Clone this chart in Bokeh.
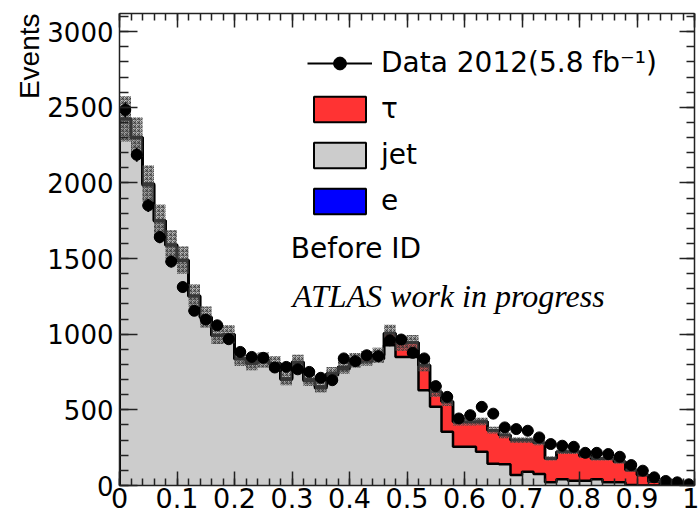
import numpy as np
from bokeh.plotting import figure
from bokeh.models import (Range1d, LinearAxis, SingleIntervalTicker, CustomJSTickFormatter,
                          Legend, LegendItem, Label, Title)
from bokeh.embed import file_html
from bokeh.resources import INLINE

# ---------------- data (50 bins of width 0.02 on [0, 1]) ----------------
x_min, x_max, n_bins = 0.0, 1.0, 50
edges = np.linspace(x_min, x_max, n_bins + 1)

data_counts = [2483, 2186, 1851, 1642, 1480, 1312, 1155, 1097, 1059, 967,
               883, 850, 844, 780, 784, 768, 751, 712, 696, 840,
               822, 861, 855, 960, 965, 877, 840, 657, 586, 443,
               465, 520, 475, 384, 373, 362, 318, 274, 263, 256,
               216, 216, 208, 190, 135, 98, 54, 30, 21, 8]

jet_counts = [2419, 2297, 1985, 1747, 1587, 1485, 1250, 1109, 990, 995,
              835, 804, 822, 800, 699, 807, 690, 643, 728, 769,
              810, 820, 836, 927, 850, 850, 630, 520, 355, 256,
              256, 223, 144, 140, 69, 91, 76, 21, 41, 32,
              32, 41, 21, 21, 3, 0, 0, 0, 0, 0]

tau_counts = [5, 5, 10, 5, 5, 5, 5, 5, 5, 5,
              5, 8, 8, 8, 8, 10, 10, 12, 12, 15,
              18, 20, 25, 80, 90, 95, 165, 100, 200, 165,
              165, 200, 222, 193, 231, 209, 207, 158, 182, 191,
              163, 138, 158, 136, 99, 69, 25, 0, 0, 0]

e_counts = [0] * 50

mc_err = [150, 130, 120, 105, 95, 90, 75, 70, 60, 60,
          50, 50, 50, 48, 45, 48, 42, 40, 44, 46,
          48, 48, 50, 55, 50, 50, 40, 35, 30, 25,
          25, 25, 22, 20, 18, 18, 17, 14, 15, 15,
          14, 13, 13, 12, 10, 8, 5, 0, 0, 0]

legend_labels = ["Data 2012(5.8 fb\u207b\u00b9)", "\u03c4", "jet", "e"]

# ---------------- derived ----------------
lo, hi = edges[:-1], edges[1:]
ctr = 0.5 * (lo + hi)
jet = np.array(jet_counts, float)
tau = np.array(tau_counts, float)
ele = np.array(e_counts, float)
data = np.array(data_counts, float)
err = np.array(mc_err, float)
s_jet = jet
s_tau = jet + tau
s_e = s_tau + ele


def step_xy(vals):
    xs = np.concatenate([[edges[0]], np.repeat(edges, 2)[1:-1], [edges[-1]]])
    ys = np.concatenate([[0.0], np.repeat(vals, 2), [0.0]])
    return xs, ys


GREY = "#cccccc"
RED = "#ff3333"
BLUE = "#0000ff"
SANS = "DejaVu Sans"

p = figure(width=699, height=515, x_range=Range1d(0, 1), y_range=Range1d(0, 3120),
           output_backend="svg", toolbar_location=None,
           min_border_left=119, min_border_right=5, min_border_top=13, min_border_bottom=30,
           background_fill_color="white", border_fill_color="white")
p.grid.visible = False
p.outline_line_color = None

# stacked fills
for vals, col in [(s_e, BLUE), (s_tau, RED), (s_jet, GREY)]:
    xs, ys = step_xy(vals)
    p.varea(x=xs, y1=np.zeros_like(ys), y2=ys, fill_color=col)
# outlines
for vals in [s_e, s_tau, s_jet]:
    xs, ys = step_xy(vals)
    p.line(xs, ys, line_color="black", line_width=2.5)

# uncertainty band
p.quad(left=lo, right=hi, bottom=s_e - err, top=s_e + err,
       fill_color="#808080", fill_alpha=0.45, line_color=None,
       hatch_pattern="criss_cross", hatch_color="#333333", hatch_alpha=0.7,
       hatch_scale=4, hatch_weight=1)

# data
hseg = p.segment(x0=lo, x1=hi, y0=data, y1=data, line_color="black", line_width=1.8)
p.segment(x0=ctr, x1=ctr, y0=data - np.sqrt(data), y1=data + np.sqrt(data),
          line_color="black", line_width=1.8)
dots = p.scatter(ctr, data, size=11, marker="circle", fill_color="black", line_color="black")

# legend-only renderers (one undrawable NaN entry each)
nan1 = [np.nan]
leg_tau = p.quad(left=nan1, right=nan1, bottom=nan1, top=nan1, fill_color=RED, line_color="black", line_width=2)
leg_jet = p.quad(left=nan1, right=nan1, bottom=nan1, top=nan1, fill_color=GREY, line_color="black", line_width=2)
leg_e = p.quad(left=nan1, right=nan1, bottom=nan1, top=nan1, fill_color=BLUE, line_color="black", line_width=2)

legend = Legend(items=[LegendItem(label=legend_labels[0], renderers=[hseg, dots]),
                       LegendItem(label=legend_labels[1], renderers=[leg_tau]),
                       LegendItem(label=legend_labels[2], renderers=[leg_jet]),
                       LegendItem(label=legend_labels[3], renderers=[leg_e])],
                location=(188, 268), glyph_width=65, glyph_height=32, spacing=13,
                padding=0, margin=0, label_standoff=9,
                label_text_font=SANS, label_text_font_size="28px", label_text_color="black",
                border_line_color=None, background_fill_alpha=0)
p.add_layout(legend)

# texts
p.add_layout(Label(x=0.298, y=1565, text="Before ID", text_font=SANS, text_color="black",
                   text_font_size="28px", text_baseline="alphabetic"))
p.add_layout(Label(x=0.301, y=1250, text="ATLAS work in progress", text_font="Liberation Serif",
                   text_color="black", text_font_style="italic", text_font_size="32px",
                   text_baseline="alphabetic"))

# y-axis title at the top end of the axis (ROOT style)
ytitle = Title(text="Events", align="right", standoff=0, offset=0)
ytitle.text_font = "Liberation Sans"
ytitle.text_font_size = "28px"
ytitle.text_font_style = "normal"
ytitle.text_color = "black"
p.add_layout(ytitle, "left")

# axes
AX = "#222222"
xt = SingleIntervalTicker(interval=0.1, num_minor_ticks=5)
yt = SingleIntervalTicker(interval=500, num_minor_ticks=5)
xa, ya = p.xaxis[0], p.yaxis[0]
xa.ticker = xt
ya.ticker = yt
xa.formatter = CustomJSTickFormatter(code="return (Math.round(tick*10)/10).toString();")
for ax in (xa, ya):
    ax.axis_line_color = AX
    ax.axis_line_width = 1.5
    ax.major_tick_line_color = AX
    ax.minor_tick_line_color = AX
    ax.major_tick_line_width = 1.5
    ax.minor_tick_line_width = 1.5
    ax.major_tick_out = 0
    ax.minor_tick_out = 0
    ax.major_label_text_font = SANS
    ax.major_label_text_color = "black"
xa.major_tick_in = 14
xa.minor_tick_in = 7
xa.major_label_text_font_size = "27px"
xa.major_label_standoff = 2
ya.major_tick_in = 18
ya.minor_tick_in = 9
ya.major_label_text_font_size = "26px"
ya.major_label_standoff = 6

common = dict(major_label_text_font_size="1px", major_label_standoff=0,
              major_tick_out=0, minor_tick_out=0,
              axis_line_color=AX, axis_line_width=1.5, major_tick_line_width=1.5,
              minor_tick_line_width=1.5, major_tick_line_color=AX, minor_tick_line_color=AX)
top_ax = LinearAxis(ticker=SingleIntervalTicker(interval=0.1, num_minor_ticks=5),
                    formatter=CustomJSTickFormatter(code="return '';"),
                    major_tick_in=14, minor_tick_in=7, **common)
right_ax = LinearAxis(ticker=SingleIntervalTicker(interval=500, num_minor_ticks=5),
                      formatter=CustomJSTickFormatter(code="return '';"),
                      major_tick_in=15, minor_tick_in=8, **common)
p.add_layout(top_ax, "above")
p.add_layout(right_ax, "right")

open("out.html", "w").write(file_html(p, INLINE))
